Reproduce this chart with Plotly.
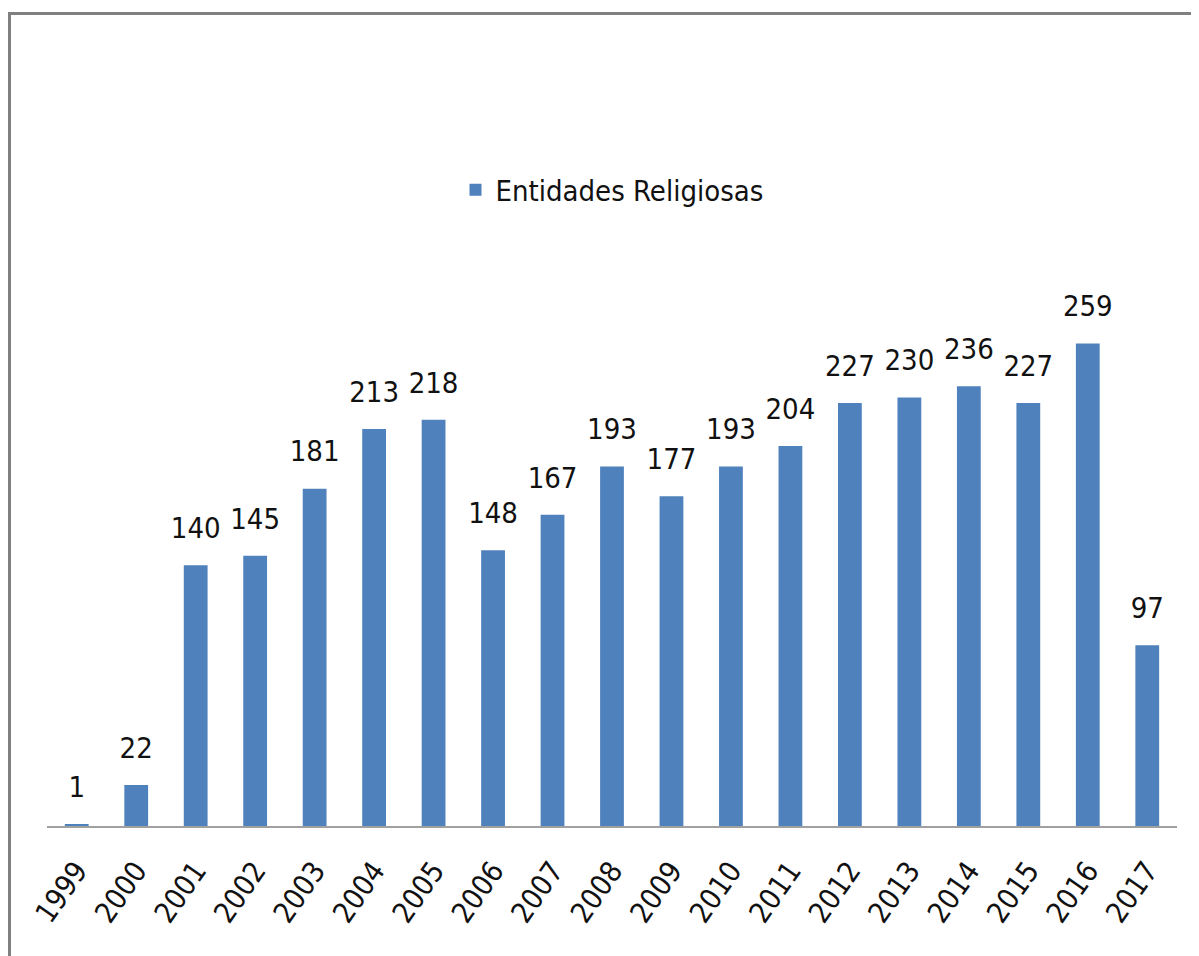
import plotly.graph_objects as go

years = ["1999", "2000", "2001", "2002", "2003", "2004", "2005", "2006", "2007", "2008",
         "2009", "2010", "2011", "2012", "2013", "2014", "2015", "2016", "2017"]
values = [1, 22, 140, 145, 181, 213, 218, 148, 167, 193,
          177, 193, 204, 227, 230, 236, 227, 259, 97]
series_name = "Entidades Religiosas"

FONT = "Liberation Sans Narrow, DejaVu Sans Condensed, Roboto, sans-serif"
BAR_COLOR = "#4F81BD"

# page body has an 8px default margin, so targets are offset by -8
OFF = 8
W, H = 1199, 956
ML, MR, MT, MB = 47 - OFF, 30, 267 - OFF, 138
PW, PH = W - ML - MR, H - MT - MB
Y_MAX = 300
LABEL_GAP_PX = 20
gap_units = LABEL_GAP_PX * Y_MAX / PH

fig = go.Figure()
fig.add_trace(go.Bar(
    x=years, y=values, name=series_name,
    marker=dict(color=BAR_COLOR, line=dict(width=0)),
    showlegend=True,
))
fig.add_trace(go.Scatter(
    x=years, y=values, mode="text", text=[str(v) for v in values],
    textposition="top center", yaxis="y2", showlegend=False, hoverinfo="skip",
    textfont=dict(family=FONT, size=29, color="#111111"),
))

def px_x(p):
    return (p - OFF - ML) / PW

def px_y(p):
    return (H - MB - (p - OFF)) / PH

shapes = [
    dict(type="line", xref="paper", yref="paper", x0=px_x(8.5), x1=px_x(1210),
         y0=px_y(13.5), y1=px_y(13.5), line=dict(color="#808080", width=3)),
    dict(type="line", xref="paper", yref="paper", x0=px_x(9.5), x1=px_x(9.5),
         y0=px_y(12), y1=px_y(970), line=dict(color="#808080", width=3)),
]

fig.update_layout(
    width=W, height=H,
    margin=dict(l=ML, r=MR, t=MT, b=MB, autoexpand=False),
    paper_bgcolor="white", plot_bgcolor="white",
    bargap=0.6,
    font=dict(family=FONT, size=29, color="#111111"),
    shapes=shapes,
    legend=dict(orientation="h", x=0.5, xanchor="center",
                y=px_y(190), yanchor="middle",
                font=dict(family=FONT, size=29, color="#111111"),
                itemwidth=30,
                bgcolor="rgba(0,0,0,0)"),
    xaxis=dict(type="category", automargin=False, range=[-0.5, len(years) - 0.5],
               showline=True, linecolor="#A0A0A0", linewidth=2,
               tickangle=-55, ticks="", showgrid=False,
               ticklabelstandoff=14,
               tickfont=dict(family=FONT, size=29, color="#111111")),
    yaxis=dict(range=[0, Y_MAX], visible=False, showgrid=False, zeroline=False),
    yaxis2=dict(range=[-gap_units, Y_MAX - gap_units], overlaying="y",
                visible=False, showgrid=False, zeroline=False),
)

fig.write_html("out.html")
